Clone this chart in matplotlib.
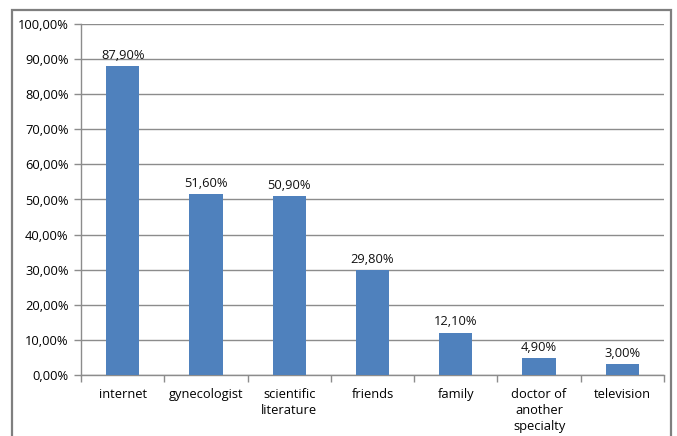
import matplotlib
matplotlib.use("Agg")
import matplotlib.pyplot as plt
from matplotlib.patches import Rectangle
from matplotlib.ticker import FuncFormatter
import numpy as np

# Sources of information (share of respondents, %)
categories = ["internet", "gynecologist", "scientific\nliterature", "friends",
              "family", "doctor of\nanother\nspecialty", "television"]
shares = [87.9, 51.6, 50.9, 29.8, 12.1, 4.9, 3.0]
y_ticks = [0, 10, 20, 30, 40, 50, 60, 70, 80, 90, 100]

plt.rcParams['font.family'] = ['Open Sans', 'DejaVu Sans']
FS = 9.3

def pct(v):
    return f"{v:.2f}".replace(".", ",") + "%"

fig = plt.figure(figsize=(6.77, 4.36), dpi=100)
ax = fig.add_axes([81 / 677, 1 - 375 / 436, (664 - 81) / 677, (375 - 24) / 436])

x = np.arange(len(categories))
bars = ax.bar(x, shares, width=0.4, color="#4F81BD", zorder=3)

for rect, v in zip(bars, shares):
    ax.text(rect.get_x() + rect.get_width() / 2, v + 1.2, pct(v),
            ha="center", va="bottom", fontsize=FS, color="#111111")

ax.set_xlim(-0.5, len(categories) - 0.5)
ax.set_ylim(0, 100)
ax.set_yticks(y_ticks)
ax.yaxis.set_major_formatter(FuncFormatter(lambda v, _: pct(v)))
ax.grid(axis="y", color="#8c8c8c", linewidth=1, zorder=0)

# category labels centred, tick marks at the category boundaries
ax.set_xticks(x)
ax.set_xticklabels(categories, fontsize=FS, linespacing=1.3)
ax.tick_params(axis="x", length=0, pad=9)
ax.set_xticks(np.arange(-0.5, len(categories)), minor=True)
ax.tick_params(axis="x", which="minor", length=5, color="#8c8c8c", width=1)
ax.tick_params(axis="y", length=5, color="#8c8c8c", width=1, labelsize=FS, pad=4)

for side in ["top", "right"]:
    ax.spines[side].set_visible(False)
for side in ["left", "bottom"]:
    ax.spines[side].set_color("#8c8c8c")
    ax.spines[side].set_linewidth(1)

# chart area frame
fig.patches.append(Rectangle((12 / 677, -0.05), (671 - 12) / 677, 1.05 - 10 / 436,
                             transform=fig.transFigure, fill=False,
                             edgecolor="#7f7f7f", linewidth=1.6, clip_on=False))

fig.savefig("out.png", dpi=100)
